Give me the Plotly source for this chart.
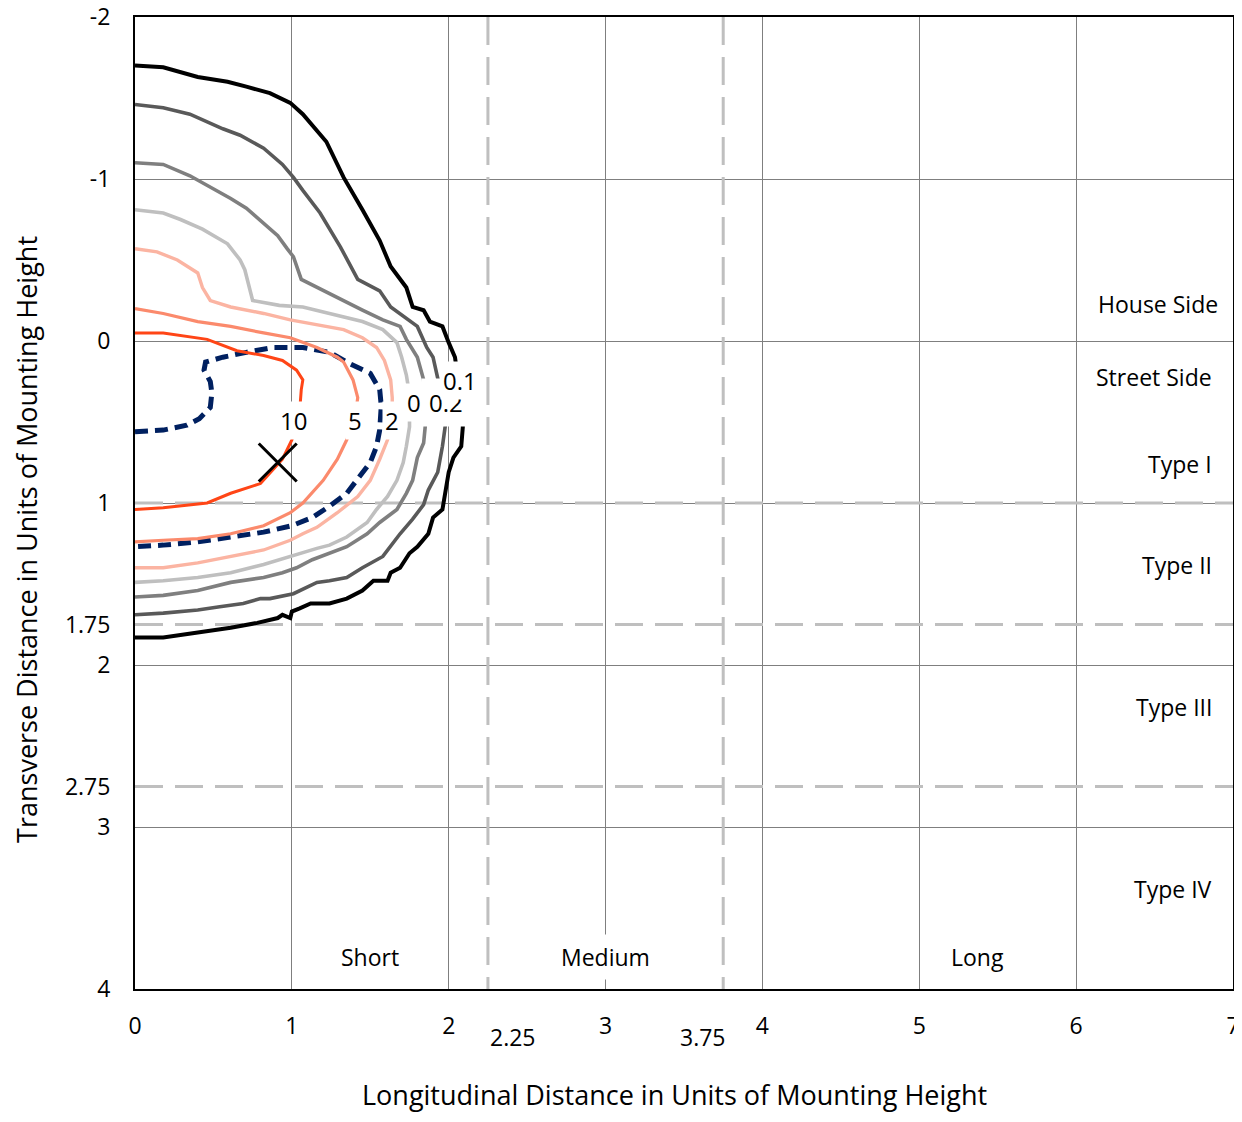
import plotly.graph_objects as go

# ---------------- data (units of mounting height) ----------------
levels = ["0.1", "0.2", "0.5", "1", "2", "3", "5", "10"]

x_01 = [0, 0.18, 0.40, 0.59, 0.71, 0.86, 0.99, 1.07, 1.22, 1.33, 1.45, 1.56, 1.63, 1.73, 1.77, 1.84, 1.88, 1.96, 2.00, 2.04, 2.06, 2.08, 2.09, 2.08, 2.03, 2.00, 1.98, 1.96, 1.90, 1.87, 1.80, 1.75, 1.69, 1.63, 1.61, 1.52, 1.45, 1.35, 1.24, 1.12, 1.05, 1.00, 0.99, 0.94, 0.91, 0.78, 0.61, 0.40, 0.18, 0]
y_01 = [-1.70, -1.69, -1.63, -1.60, -1.57, -1.53, -1.47, -1.40, -1.23, -1.01, -0.81, -0.62, -0.46, -0.33, -0.21, -0.19, -0.12, -0.09, 0.01, 0.10, 0.24, 0.43, 0.53, 0.65, 0.72, 0.81, 0.94, 1.04, 1.09, 1.19, 1.27, 1.31, 1.40, 1.43, 1.48, 1.48, 1.54, 1.59, 1.62, 1.62, 1.65, 1.67, 1.71, 1.69, 1.71, 1.74, 1.77, 1.80, 1.83, 1.83]

x_02 = [0, 0.18, 0.35, 0.56, 0.67, 0.82, 0.94, 1.01, 1.07, 1.18, 1.31, 1.42, 1.56, 1.63, 1.80, 1.86, 1.90, 1.93, 1.96, 1.98, 1.96, 1.93, 1.87, 1.84, 1.77, 1.69, 1.63, 1.58, 1.45, 1.35, 1.24, 1.16, 1.01, 0.86, 0.80, 0.69, 0.54, 0.40, 0.18, 0]
y_02 = [-1.46, -1.44, -1.40, -1.31, -1.27, -1.19, -1.09, -1.01, -0.93, -0.79, -0.58, -0.38, -0.31, -0.21, -0.09, 0.04, 0.10, 0.24, 0.36, 0.51, 0.65, 0.81, 0.92, 1.01, 1.10, 1.19, 1.27, 1.33, 1.40, 1.46, 1.48, 1.49, 1.56, 1.59, 1.59, 1.62, 1.64, 1.66, 1.68, 1.69]

x_05 = [0, 0.18, 0.35, 0.50, 0.61, 0.71, 0.82, 0.91, 0.97, 1.01, 1.06, 1.12, 1.29, 1.45, 1.58, 1.69, 1.73, 1.80, 1.84, 1.85, 1.85, 1.84, 1.80, 1.77, 1.73, 1.67, 1.56, 1.48, 1.35, 1.24, 1.13, 1.03, 0.94, 0.82, 0.61, 0.40, 0.18, 0]
y_05 = [-1.10, -1.09, -1.02, -0.94, -0.88, -0.82, -0.73, -0.65, -0.57, -0.52, -0.38, -0.35, -0.27, -0.19, -0.13, -0.09, -0.01, 0.10, 0.24, 0.36, 0.53, 0.63, 0.72, 0.86, 0.94, 1.04, 1.12, 1.19, 1.27, 1.31, 1.35, 1.40, 1.43, 1.46, 1.49, 1.54, 1.57, 1.58]

x_1 = [0, 0.18, 0.29, 0.43, 0.59, 0.67, 0.70, 0.72, 0.75, 0.92, 1.07, 1.24, 1.45, 1.58, 1.67, 1.70, 1.73, 1.75, 1.75, 1.73, 1.71, 1.67, 1.61, 1.54, 1.48, 1.35, 1.24, 1.16, 0.99, 0.82, 0.61, 0.40, 0.18, 0]
y_1 = [-0.81, -0.79, -0.75, -0.69, -0.60, -0.50, -0.44, -0.36, -0.25, -0.22, -0.21, -0.17, -0.12, -0.07, 0.01, 0.10, 0.21, 0.33, 0.53, 0.65, 0.75, 0.86, 0.96, 1.04, 1.12, 1.21, 1.26, 1.28, 1.33, 1.38, 1.43, 1.46, 1.48, 1.49]

x_2 = [0, 0.14, 0.27, 0.40, 0.43, 0.48, 0.61, 0.82, 0.99, 1.16, 1.33, 1.45, 1.54, 1.59, 1.63, 1.64, 1.64, 1.61, 1.56, 1.50, 1.42, 1.29, 1.16, 1.07, 0.99, 0.82, 0.61, 0.40, 0.18, 0]
y_2 = [-0.57, -0.55, -0.50, -0.42, -0.33, -0.25, -0.21, -0.17, -0.13, -0.10, -0.07, -0.02, 0.04, 0.12, 0.24, 0.35, 0.49, 0.61, 0.73, 0.86, 0.96, 1.06, 1.15, 1.19, 1.23, 1.29, 1.33, 1.37, 1.40, 1.40]

x_3 = [0, 0.18, 0.33, 0.41, 0.48, 0.49, 0.48, 0.44, 0.45, 0.56, 0.71, 0.88, 1.07, 1.24, 1.37, 1.50, 1.56, 1.57, 1.56, 1.54, 1.50, 1.45, 1.35, 1.24, 1.13, 1.00, 0.82, 0.61, 0.40, 0.18, 0]
y_3 = [0.56, 0.55, 0.52, 0.48, 0.41, 0.32, 0.25, 0.18, 0.13, 0.10, 0.07, 0.04, 0.04, 0.07, 0.14, 0.20, 0.30, 0.40, 0.55, 0.65, 0.75, 0.81, 0.94, 1.02, 1.09, 1.14, 1.18, 1.21, 1.24, 1.26, 1.27]

x_5 = [0, 0.18, 0.40, 0.61, 0.82, 0.99, 1.16, 1.29, 1.33, 1.39, 1.42, 1.40, 1.35, 1.29, 1.20, 1.07, 0.99, 0.82, 0.61, 0.40, 0.18, 0]
y_5 = [-0.20, -0.17, -0.12, -0.09, -0.05, -0.02, 0.04, 0.10, 0.13, 0.24, 0.35, 0.49, 0.61, 0.73, 0.86, 1.00, 1.06, 1.14, 1.19, 1.22, 1.23, 1.24]

x_10 = [0, 0.18, 0.46, 0.65, 0.82, 0.94, 1.03, 1.07, 1.06, 1.05, 1.03, 1.00, 0.94, 0.80, 0.61, 0.46, 0.18, 0]
y_10 = [-0.05, -0.05, -0.01, 0.06, 0.09, 0.12, 0.18, 0.24, 0.30, 0.43, 0.52, 0.61, 0.73, 0.88, 0.94, 1.00, 1.03, 1.04]

# luminaire position
lum_x = [0.91]
lum_y = [0.75]

# classification boundaries
long_bounds = [2.25, 3.75]
trans_bounds = [1, 1.75, 2.75]

x_ticks = [0, 1, 2, 3, 4, 5, 6, 7]
y_ticks = [-2, -1, 0, 1, 1.75, 2, 2.75, 3, 4]
y_ticktext = ["-2", "-1", "0", "1", "1.75", "2", "2.75", "3", "4"]
grid_x = [1, 2, 3, 4, 5, 6]
grid_y = [-1, 0, 1, 2, 3]

# contour labels
lab_text = ["10", "5", "2", "0.5", "0.2", "0.1"]
lab_x = [1.01, 1.40, 1.64, 1.84, 1.98, 2.07]
lab_y = [0.49, 0.49, 0.49, 0.38, 0.38, 0.245]
lab_pad = [2, 2, 2, 2, 7, 2]

# region labels
long_names = ["Short", "Medium", "Long"]
long_pos = [1.50, 3.00, 5.37]
side_names = ["House Side", "Street Side", "Type I", "Type II", "Type III", "Type IV"]
side_pos = [-0.23, 0.22, 0.76, 1.38, 2.26, 3.38]

FONT = "Open Sans"
fig = go.Figure()

# dashed classification lines
for xb in long_bounds:
    fig.add_trace(go.Scatter(x=[xb, xb], y=[-2, 4.05], mode="lines", cliponaxis=False,
                             line=dict(color="#BFBFBF", width=3, dash="28px,12px"),
                             hoverinfo="skip", showlegend=False))
for yb in trans_bounds:
    fig.add_trace(go.Scatter(x=[0, 7], y=[yb, yb], mode="lines",
                             line=dict(color="#BFBFBF", width=3, dash="28px,12px"),
                             hoverinfo="skip", showlegend=False))

series = [
    (x_01, y_01, "#000000", 4.0, "solid"),
    (x_02, y_02, "#595959", 3.6, "solid"),
    (x_05, y_05, "#7F7F7F", 3.6, "solid"),
    (x_1, y_1, "#BFBFBF", 3.6, "solid"),
    (x_2, y_2, "#FBB4A2", 3.4, "solid"),
    (x_3, y_3, "#002060", 5.0, "13px,7px"),
    (x_5, y_5, "#FB8A6C", 3.2, "solid"),
    (x_10, y_10, "#FF4516", 3.0, "solid"),
]
for (xs, ys, col, w, d), lev in zip(series, levels):
    fig.add_trace(go.Scatter(x=xs, y=ys, mode="lines", name=lev,
                             line=dict(color=col, width=w, dash=d),
                             showlegend=False))

fig.add_trace(go.Scatter(x=lum_x, y=lum_y, mode="markers", showlegend=False,
                         marker=dict(symbol="x-thin", size=38, line=dict(color="black", width=3))))

annotations = []
for t, xv, yv, p in zip(lab_text, lab_x, lab_y, lab_pad):
    annotations.append(dict(x=xv, y=yv, text=t, showarrow=False, bgcolor="white",
                            borderpad=p, font=dict(family=FONT, size=24, color="black")))
for t, xv in zip(long_names, long_pos):
    annotations.append(dict(x=xv, y=3.80, text=t, showarrow=False,
                            bgcolor="white" if t == "Medium" else None, borderpad=6,
                            font=dict(family=FONT, size=23, color="black")))
for t, yv in zip(side_names, side_pos):
    annotations.append(dict(x=6.88 if t != "House Side" else 6.92, y=yv, text=t, showarrow=False,
                            xanchor="right", font=dict(family=FONT, size=23, color="black")))
# extra tick labels for boundaries
annotations.append(dict(x=long_bounds[0], xanchor="left", y=0, yref="paper", yanchor="middle", yshift=-48,
                        text="2.25", showarrow=False, font=dict(family=FONT, size=23, color="black")))
annotations.append(dict(x=long_bounds[1], xanchor="right", xshift=5, y=0, yref="paper", yanchor="middle",
                        yshift=-48,
                        text="3.75", showarrow=False, font=dict(family=FONT, size=23, color="black")))
# axis titles
annotations.append(dict(x=0.491, xref="paper", xanchor="center", y=0, yref="paper", yanchor="middle",
                        yshift=-105,
                        text="Longitudinal Distance in Units of Mounting Height", showarrow=False,
                        font=dict(family=FONT, size=27, color="black")))
annotations.append(dict(x=0, xref="paper", xanchor="center", xshift=-108, y=0.462, yref="paper",
                        yanchor="middle", textangle=-90,
                        text="Transverse Distance in Units of Mounting Height", showarrow=False,
                        font=dict(family=FONT, size=27, color="black")))

fig.update_layout(
    width=1234, height=1106,
    margin=dict(l=127, r=9, t=9, b=125, autoexpand=False),
    paper_bgcolor="white", plot_bgcolor="white",
    annotations=annotations,
    xaxis=dict(range=[0, 7], tickvals=x_ticks, showgrid=False, zeroline=False, automargin=False,
               showline=True, mirror=True, linecolor="black", linewidth=2,
               ticks="", ticklabelstandoff=15, ticklabeloverflow="allow",
               tickfont=dict(family=FONT, size=23, color="black"),
               minor=dict(tickvals=grid_x, showgrid=True, gridcolor="#7F7F7F", gridwidth=1, ticks="")),
    yaxis=dict(range=[4, -2], tickvals=y_ticks, ticktext=y_ticktext, showgrid=False, zeroline=False,
               automargin=False,
               showline=True, mirror=True, linecolor="black", linewidth=2,
               ticks="", ticklabelstandoff=18, ticklabeloverflow="allow",
               tickfont=dict(family=FONT, size=23, color="black"),
               minor=dict(tickvals=grid_y, showgrid=True, gridcolor="#7F7F7F", gridwidth=1, ticks="")),
)

fig.write_html("out.html")
